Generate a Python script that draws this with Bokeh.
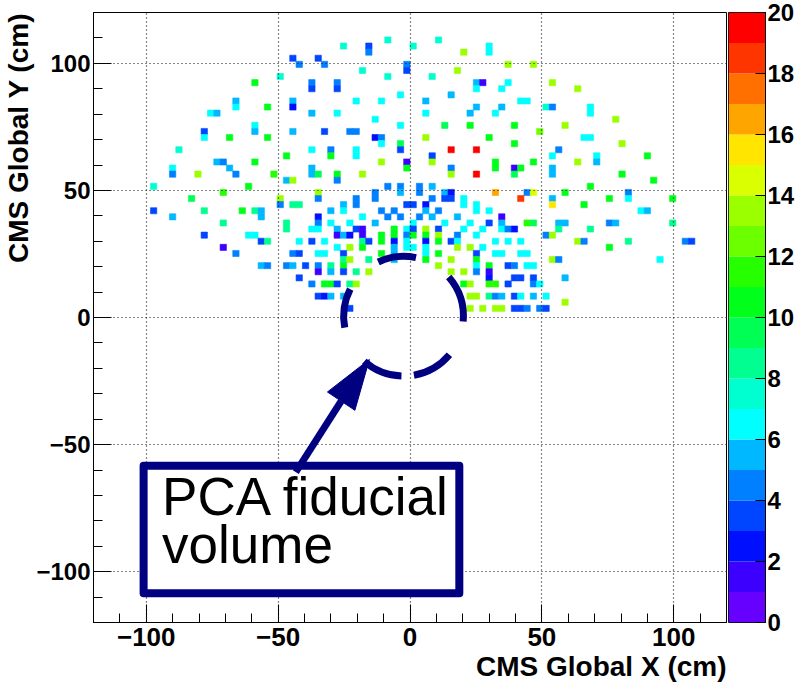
import numpy as np
from bokeh.plotting import figure
from bokeh.layouts import row
from bokeh.models import FixedTicker, Title, Range1d
from bokeh.embed import file_html
from bokeh.resources import INLINE
from bokeh.core.properties import value

# ---------------- data ----------------
X_RANGE = (-120.0, 120.0)
Y_RANGE = (-120.0, 120.0)
BIN = 2.4
Z_LEVELS = list(range(0, 21))
Z_TICKS = list(range(0, 21, 2))
X_MAJOR = [-100, -50, 0, 50, 100]
MINOR = list(range(-120, 121, 10))
X_TITLE = "CMS Global X (cm)"
Y_TITLE = "CMS Global Y (cm)"
NOTE_LINES = ["PCA fiducial", "volume"]

PALETTE = ["#6600ff", "#3c00ff", "#0010ff", "#0045ff", "#0080ff",
           "#00b8ff", "#00ffff", "#00ffd0", "#00ff90", "#00ff55",
           "#00ff1a", "#25ff00", "#6cff00", "#9cff00", "#daff00",
           "#ffe500", "#ffa500", "#ff7000", "#ff3500", "#ff0000"]

# one entry per histogram row: y position (cm), x positions (cm) and contents
ROW_Y = [109.4, 107.2, 104.8, 102.4, 100.0, 97.6, 95.4, 92.8, 90.6, 88.2,
         85.6, 83.2, 80.8, 78.5, 76.0, 73.5, 71.1, 68.7, 66.3, 63.9,
         61.3, 59.1, 56.7, 54.3, 52.1, 49.8, 47.5, 45.1, 42.5, 40.0,
         37.6, 35.0, 32.8, 30.4, 27.8, 25.4, 23.0, 20.6, 18.3, 16.0,
         13.4, 8.8, 6.1, 3.8]
ROW_X = [
    [-8.7, 10.6],
    [-25.3, -15.6, 1.0, 29.7],
    [-15.6, 20.3, 29.7],
    [-44.6, -34.9],
    [-42.3, -32.3, -1.1, 37.0, 46.7],
    [-18.4, -1.1, 18.0],
    [-49.6, -8.7, 8.3],
    [-59.0, -37.4, -27.9, 25.0, 27.6, 37.0, 53.6],
    [-37.4, -27.9, 25.0, 34.5, 63.4],
    [-3.7, 15.5],
    [-66.2, -44.6, -20.7, -11.0, 6.0, 42.3, 44.6],
    [-66.2, -54.1, -44.6, 25.0, 34.7, 51.5, 53.6, 68.4],
    [-75.6, -73.5, -37.4, -27.9, 6.0, 22.5, 32.0, 68.4],
    [-13.3, 77.9],
    [-59.0, -3.7, 13.0, 22.5, 39.5, 58.6],
    [-78.3, -59.0, -44.6, -32.3, -23.1, -20.8, 48.9],
    [-78.3, -68.7, -54.1, -13.3, -11.0, 6.0, 29.7, 66.2, 68.4],
    [-11.0, -3.7, 39.5, 80.4],
    [-87.7, -37.4, -30.1, -20.7, -3.7, 15.5, 25.0, 56.2],
    [-47.1, -30.1, -20.7, 8.3, 53.6, 70.9, 89.9],
    [-73.5, -71.3, -59.0, -10.8, -1.1, 8.3, 32.0, 46.7, 63.4, 70.9],
    [-90.3, -68.5, -37.4, -1.1, 15.5, 32.0, 39.5, 41.9, 53.6],
    [-90.3, -80.7, -66.0, -51.7, -37.4, -34.9, -27.9, -18.4, 15.5, 25.0, 39.5, 53.6, 80.4],
    [-47.1, -44.6, -27.9, 92.3],
    [-97.4, -61.6, -8.7, -3.7, 3.3, 8.3, 68.4],
    [-71.3, -34.9, -13.3, -3.7, 3.3, 13.0, 15.5, 32.2, 44.0, 46.7, 58.6, 82.6],
    [-83.0, -49.6, -34.9, -20.7, -13.3, 8.3, 13.0, 15.5, 20.3, 41.9, 53.6, 75.4, 82.6, 99.6],
    [-49.6, -44.6, -42.2, -25.4, -20.7, -1.1, 1.0, 5.8, 20.3, 24.7, 53.6, 65.8],
    [-97.4, -78.3, -63.7, -58.8, -56.5, -30.1, -25.4, -11.0, -6.2, 5.8, 10.8, 24.7, 29.7, 87.6, 90.1],
    [-90.3, -56.5, -34.9, -18.4, -8.7, -3.7, 3.3, 8.3, 17.7, 34.7],
    [-71.3, -47.1, -34.9, -30.1, -22.5, -13.3, 0.8, 12.7, 22.5, 29.7, 34.7, 44.2, 46.7, 56.2, 58.6, 75.4, 77.9, 99.6],
    [-47.1, -37.4, -34.9, -27.9, -20.7, -18.4, -6.2, -1.1, 1.4, 6.0, 10.8, 20.3, 27.6, 34.7, 36.6, 39.5, 56.2, 68.4],
    [-78.3, -60.9, -58.8, -27.9, -25.7, -23.1, -18.4, -10.8, -6.2, -1.1, 0.8, 6.0, 10.8, 18.0, 25.0, 51.5, 53.6],
    [-56.5, -54.0, -42.0, -37.4, -32.4, -18.4, -15.9, -10.8, -6.2, -1.1, 6.0, 10.8, 15.5, 18.0, 32.2, 37.0, 41.9, 63.4, 65.8, 82.6, 104.0, 106.5],
    [-71.3, -27.9, -23.1, -18.4, -6.2, -1.1, 1.4, 6.0, 18.0, 22.8, 27.6, 75.4],
    [-66.0, -44.6, -42.0, -34.9, -32.4, -25.4, -10.8, -6.2, 6.0, 10.8, 25.0, 32.2, 34.7, 42.3, 44.8],
    [-25.4, -23.1, -15.9, -6.2, 6.0, 15.5, 24.9, 53.0, 56.2, 94.5],
    [-55.9, -54.0, -47.7, -45.2, -40.1, -35.1, -30.1, -25.7, 10.6, 25.3, 29.7, 37.0, 39.5, 44.2, 46.7],
    [-35.1, -30.1, -25.7, -20.7, -15.9, 15.6, 20.3, 25.3, 29.7],
    [-42.3, 29.7, 39.8, 42.3, 46.7, 58.6],
    [-37.6, -32.6, -30.5, -27.8, -22.8, -20.7, 20.3, 22.8, 29.7, 32.0, 37.0, 46.7, 49.0],
    [-35.1, -32.6, -30.1, -25.7, 22.8, 24.9, 29.9, 32.2, 34.7, 39.5, 42.0, 46.7, 51.1],
    [58.6],
    [-22.5, 22.8, 27.2, 32.2, 34.7, 39.5, 42.0, 44.6, 49.0, 51.5],
]
ROW_V = [
    [7.5, 7.5],
    [7.5, 3.5, 7.5, 6.5],
    [4.5, 13, 6.5],
    [3.5, 3.5],
    [4.5, 4.5, 4.5, 13, 13],
    [7.5, 3.5, 13],
    [7.5, 7.5, 7.5],
    [10.5, 4.5, 4.5, 5.5, 1.5, 6.5, 13],
    [3.5, 3.5, 6.5, 6.5, 13],
    [6.5, 5.5],
    [5.5, 5.5, 6.5, 6.5, 5.5, 6.5, 6.5],
    [6.5, 10.5, 2.5, 5.5, 5.5, 7.5, 4.5, 6.5],
    [6.5, 5.5, 5.5, 6.5, 6.5, 5.5, 6.5, 6.5],
    [6.5, 13],
    [6.5, 6.5, 9.5, 10.5, 10.5, 13],
    [3.5, 5.5, 5.5, 3.5, 4.5, 4.5, 12],
    [6.5, 10.5, 10.5, 2.5, 4.5, 13, 10.5, 6.5, 6.5],
    [6.5, 9, 10.5, 13],
    [7.5, 6.5, 4.5, 6.5, 3.5, 19.5, 19.5, 4.5],
    [10.5, 10.5, 6.5, 3.5, 6.5, 6.5, 10.5],
    [5.5, 4.5, 10.5, 13, 1.5, 13, 10.5, 10.5, 13, 5.5],
    [6.5, 5.5, 5.5, 10.5, 4.5, 10.5, 1.5, 10.5, 5.5],
    [4.5, 13, 4.5, 11, 5.5, 9, 10.5, 13, 13, 19.5, 9, 5.5, 10.5],
    [5, 13, 4.5, 10.5],
    [7.5, 10.5, 4.5, 4.5, 4.5, 5.5, 10.5],
    [11, 13.5, 4.5, 5.5, 4.5, 5.5, 2, 16.5, 4.5, 14.5, 10.5, 4.5],
    [9, 13, 4.5, 4.5, 4.5, 4.5, 3.5, 3.5, 6.5, 18.5, 5.5, 10.5, 6.5, 10.5],
    [4.5, 8.5, 8.5, 5.5, 4.5, 3, 3, 2, 6.5, 6.5, 15.5, 10.5],
    [3, 8.5, 10.5, 8.5, 5.5, 5.5, 6.5, 4.5, 4.5, 5.5, 4.5, 6.5, 6.5, 6.5, 5.5],
    [5.5, 5.5, 2.5, 6.5, 4.5, 4.5, 4.5, 5.5, 5.5, 1.5],
    [8, 8.5, 4.5, 6.5, 6.5, 5.5, 6.5, 6.5, 6.5, 3.5, 5.5, 11, 9, 5.5, 5.5, 4.5, 5.5, 8.5],
    [8.5, 6.5, 6.5, 5.5, 3.5, 1.5, 10.5, 6.5, 3, 13, 3.5, 6.5, 6.5, 6.5, 4.5, 2, 8.5, 8.5],
    [3.5, 6.5, 6.5, 1.5, 5.5, 2, 1.5, 10.5, 10.5, 4.5, 10, 10.5, 13, 4, 6.5, 4.5, 13],
    [3.5, 8.5, 6.5, 3.5, 6.5, 8, 3, 10.5, 2, 6.5, 2, 10.5, 3.5, 6.5, 6.5, 6.5, 6.5, 13, 4.5, 8, 4.5, 3],
    [1.5, 6.5, 13, 10.5, 5.5, 6.5, 6.5, 6.5, 13, 13, 6.5, 10.5],
    [4.5, 4.5, 3.5, 6.5, 6.5, 3, 10.5, 5.5, 6.5, 10.5, 3.5, 6.5, 6.5, 6.5, 6.5],
    [8.5, 13, 8, 5.5, 10.5, 13, 10.5, 13, 4.5, 6.5],
    [5.5, 4.5, 4.5, 5.5, 3, 4, 8, 10.5, 13, 6.5, 10.5, 3, 4.5, 6.5, 6.5],
    [1.5, 5.5, 3, 8.5, 13, 13, 13, 4.5, 1.5],
    [3, 2, 3, 3, 3, 5.5],
    [4.5, 10.5, 10.5, 3.5, 8, 13, 10.5, 13, 11, 11, 3.5, 4.5, 6.5],
    [3, 2, 5.5, 5.5, 13, 13, 8.5, 4.5, 5.5, 3.5, 6.5, 5.5, 6.5],
    [13],
    [3.5, 13, 13, 13, 13, 3, 3, 4.5, 4.5, 3],
]

# annotation geometry (cm)
CIRCLE_CENTER = (-2.45, 0.5)
CIRCLE_RADIUS = 22.7
DASH_START_DEG = [-80, -5, 78, 153, 229]
DASH_END_DEG = [-40, 41, 115, 191, 268]
ARROW_TAIL = (-43.3, -60.8)
ARROW_BASE_MID = (-26.1, -32.9)
ARROW_TIP = (-15.4, -16.5)
ARROW_WING_A = (-31.3, -29.3)
ARROW_WING_B = (-20.9, -36.5)
NOTE_BOX = dict(left=-101.0, right=18.7, top=-58.3, bottom=-108.5)
NOTE_X = -94.0
NOTE_Y = [-70.6, -89.5]

NAVY = "#000080"
FONT = "Liberation Sans"

# ---------------- histogram cells ----------------
xs, ys, vs = [], [], []
for yv, rx, rv in zip(ROW_Y, ROW_X, ROW_V):
    for xv, zv in zip(rx, rv):
        xs.append(xv)
        ys.append(yv)
        vs.append(zv)
xs = np.array(xs)
ys = np.array(ys)
vs = np.array(vs)
ix = np.floor((xs - X_RANGE[0]) / BIN)
iy = np.floor((ys - Y_RANGE[0]) / BIN)
left = X_RANGE[0] + ix * BIN
bottom = Y_RANGE[0] + iy * BIN
colors = [PALETTE[min(int(v), len(PALETTE) - 1)] for v in vs]

p = figure(width=728, height=685,
           x_range=Range1d(*X_RANGE), y_range=Range1d(*Y_RANGE),
           output_backend="svg", toolbar_location=None,
           min_border_left=92, min_border_right=2,
           min_border_top=12, min_border_bottom=63,
           background_fill_color="white", border_fill_color="white",
           outline_line_color="black", outline_line_width=1)

p.quad(left=left, right=left + BIN, bottom=bottom, top=bottom + BIN,
       fill_color=colors, line_color=colors, line_width=0.6)

for ax in (p.xaxis[0], p.yaxis[0]):
    ax.ticker = FixedTicker(ticks=X_MAJOR, minor_ticks=MINOR)
    ax.major_tick_in = 18
    ax.major_tick_out = 0
    ax.minor_tick_in = 9
    ax.minor_tick_out = 0
    ax.major_tick_line_color = "black"
    ax.minor_tick_line_color = "black"
    ax.axis_line_color = "black"
    ax.major_label_text_font = FONT
    ax.major_label_text_font_style = "bold"
    ax.major_label_text_font_size = "26px"
    ax.major_label_text_color = "black"
    ax.major_label_standoff = 5
    ax.axis_label_standoff = 0
p.yaxis[0].major_label_orientation = "horizontal"
p.yaxis[0].major_label_text_font_size = "24px"
p.yaxis[0].major_label_standoff = 3

for g in (p.xgrid[0], p.ygrid[0]):
    g.ticker = FixedTicker(ticks=X_MAJOR)
    g.grid_line_color = "#111111"
    g.grid_line_dash = "1 3"
    g.grid_line_width = 1.2
    g.level = "guide"

p.add_layout(Title(text=X_TITLE, align="right", text_font=FONT,
                   text_font_style="bold", text_font_size="28px",
                   text_color="black", offset=0, standoff=0), "below")
p.add_layout(Title(text=Y_TITLE, align="right", text_font=FONT,
                   text_font_style="bold", text_font_size="28px",
                   text_color="black", offset=0, standoff=0), "left")

# annotation: dashed circle, arrow, text box
p.arc(x=[CIRCLE_CENTER[0]] * len(DASH_START_DEG), y=[CIRCLE_CENTER[1]] * len(DASH_START_DEG),
      radius=CIRCLE_RADIUS, start_angle=np.radians(DASH_START_DEG),
      end_angle=np.radians(DASH_END_DEG), line_color=NAVY, line_width=7,
      level="annotation")
p.quad(left=[NOTE_BOX["left"]], right=[NOTE_BOX["right"]],
       top=[NOTE_BOX["top"]], bottom=[NOTE_BOX["bottom"]],
       fill_color="white", line_color=NAVY, line_width=8, line_join="round",
       level="annotation")
p.line(x=[ARROW_TAIL[0], ARROW_BASE_MID[0]], y=[ARROW_TAIL[1], ARROW_BASE_MID[1]],
       line_color=NAVY, line_width=7, level="annotation")
p.patch(x=[ARROW_TIP[0], ARROW_WING_A[0], ARROW_WING_B[0]],
        y=[ARROW_TIP[1], ARROW_WING_A[1], ARROW_WING_B[1]],
        fill_color=NAVY, line_color=NAVY, line_width=1, level="annotation")
p.text(x=[NOTE_X] * len(NOTE_LINES), y=NOTE_Y, text=NOTE_LINES,
       text_font=value(FONT), text_font_size="53px", text_color="black",
       text_baseline="alphabetic", text_align="left", level="annotation")

# ---------------- colour scale ----------------
cb = figure(width=75, height=685,
            x_range=Range1d(0, 1), y_range=Range1d(Z_LEVELS[0], Z_LEVELS[-1]),
            x_axis_location=None, y_axis_location="right",
            output_backend="svg", toolbar_location=None,
            min_border_left=0, min_border_right=38,
            min_border_top=12, min_border_bottom=63,
            background_fill_color="white", border_fill_color="white",
            outline_line_color="black", outline_line_width=1)
cb.quad(left=0, right=1, bottom=Z_LEVELS[:-1], top=Z_LEVELS[1:],
        fill_color=PALETTE, line_color=None)
cb.grid.visible = False
cax = cb.yaxis[0]
cax.ticker = FixedTicker(ticks=Z_TICKS, minor_ticks=[])
cax.major_tick_in = 10
cax.major_tick_out = 0
cax.minor_tick_line_color = None
cax.major_tick_line_color = "black"
cax.axis_line_color = "black"
cax.major_label_text_font = FONT
cax.major_label_text_font_style = "bold"
cax.major_label_text_font_size = "24px"
cax.major_label_text_color = "black"
cax.major_label_standoff = 2

layout = row(p, cb, spacing=0)
open("out.html", "w").write(file_html(layout, INLINE))
